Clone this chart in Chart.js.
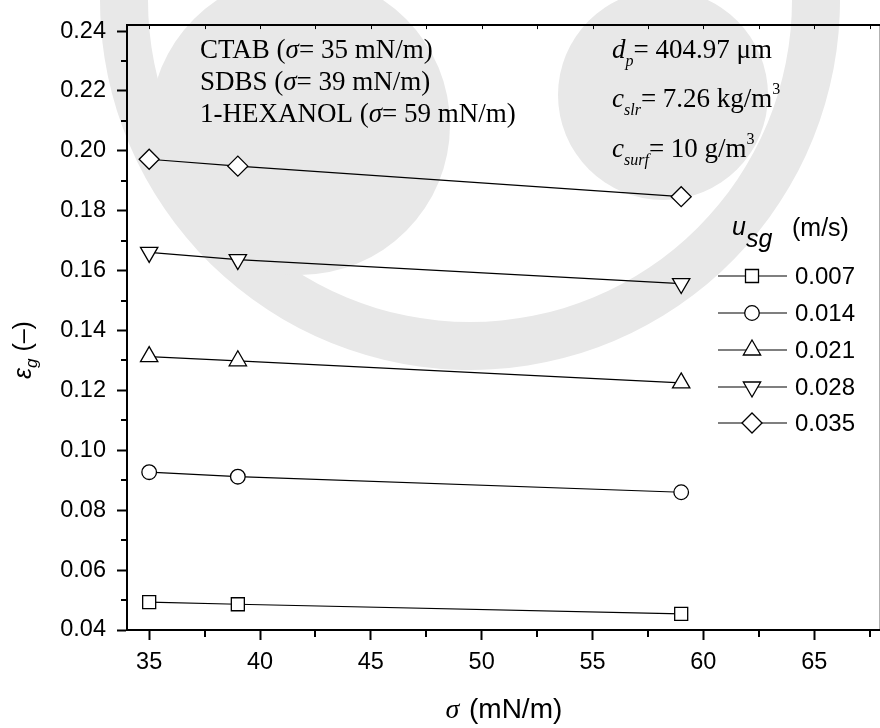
<!DOCTYPE html>
<html>
<head>
<meta charset="utf-8">
<script src="https://cdn.jsdelivr.net/npm/chart.js@4.4.1/dist/chart.umd.min.js"></script>
<style>
  html, body { margin: 0; padding: 0; background: #fff; overflow: hidden; }
  #wrap { position: relative; width: 892px; height: 728px; }
</style>
</head>
<body>
<div id="wrap"><canvas id="holdup" width="892" height="728"></canvas></div>
<script>
// surface tension of each liquid (x) and gas holdup per superficial gas velocity
const sigmaValues = [35, 39, 59];
const liquids = ['CTAB', 'SDBS', '1-HEXANOL'];
const usgLabels = ['0.007', '0.014', '0.021', '0.028', '0.035'];
const holdup007 = [0.0493, 0.0486, 0.0454];
const holdup014 = [0.0927, 0.0912, 0.0860];
const holdup021 = [0.1313, 0.1299, 0.1225];
const holdup028 = [0.1661, 0.1637, 0.1557];
const holdup035 = [0.1972, 0.1949, 0.1847];

const xMajor = [35, 40, 45, 50, 55, 60, 65];
const xMinor = [37.5, 42.5, 47.5, 52.5, 57.5, 62.5, 67.5];
const yMajor = [0.04, 0.06, 0.08, 0.10, 0.12, 0.14, 0.16, 0.18, 0.20, 0.22, 0.24];
const yMinor = [0.05, 0.07, 0.09, 0.11, 0.13, 0.15, 0.17, 0.19, 0.21, 0.23];

const particleDia = '404.97';
const slurryConc = '7.26';
const surfConc = '10';

const SANS = '"Liberation Sans", Arial, sans-serif';
const SERIF = '"Liberation Serif", "Times New Roman", serif';

const series = [holdup007, holdup014, holdup021, holdup028, holdup035];
const markers = [
    { pointStyle: 'rect', radius: 9.2, rotation: 0 },
    { pointStyle: 'circle', radius: 7.3, rotation: 0 },
    { pointStyle: 'triangle', radius: 10, rotation: 0 },
    { pointStyle: 'triangle', radius: 10, rotation: 180 },
    { pointStyle: 'rectRot', radius: 10, rotation: 0 }
];

const datasets = series.map((vals, i) => ({
    label: usgLabels[i],
    data: sigmaValues.map((x, j) => ({ x, y: vals[j] })),
    borderColor: '#000',
    borderWidth: 1.2,
    pointStyle: markers[i].pointStyle,
    pointRadius: markers[i].radius,
    pointRotation: markers[i].rotation,
    pointBackgroundColor: '#fff',
    pointBorderColor: '#000',
    pointBorderWidth: 1.3,
    tension: 0,
    clip: false
}));

// draws a row of text pieces with their own fonts / vertical shifts
function drawRuns(ctx, x, y, runs) {
    let cx = x;
    runs.forEach(r => {
        ctx.font = r.font;
        ctx.fillText(r.t, cx, y + (r.dy || 0));
        cx += ctx.measureText(r.t).width + (r.kern || 0);
    });
    return cx - x;
}
function measureRuns(ctx, runs) {
    let w = 0;
    runs.forEach(r => { ctx.font = r.font; w += ctx.measureText(r.t).width + (r.kern || 0); });
    return w;
}

// faint grey emblem printed behind the plot
const emblem = {
    id: 'emblem',
    beforeDraw(chart) {
        const ctx = chart.ctx;
        ctx.save();
        ctx.fillStyle = '#e8e8e8';
        ctx.beginPath();
        ctx.arc(470, 0, 370, -Math.PI * 0.05, Math.PI);
        ctx.arc(470, 0, 322, Math.PI, -Math.PI * 0.05, true);
        ctx.closePath();
        ctx.fill();
        ctx.beginPath();
        ctx.arc(663, 95, 105, 0, Math.PI * 2);
        ctx.fill();
        ctx.beginPath();
        ctx.arc(300, 125, 150, 0, Math.PI * 2);
        ctx.fill();
        ctx.restore();
    }
};

// top frame line plus the minor ticks
const frame = {
    id: 'frame',
    afterDraw(chart) {
        const { ctx, chartArea: a, scales: { x, y } } = chart;
        ctx.save();
        ctx.strokeStyle = '#000';
        ctx.lineWidth = 2;
        ctx.beginPath();
        ctx.moveTo(a.left - 1, a.top);
        ctx.lineTo(a.right + 2, a.top);
        ctx.moveTo(a.right, a.top);
        ctx.lineTo(a.right, a.bottom);
        xMinor.forEach(v => {
            const px = Math.round(x.getPixelForValue(v));
            ctx.moveTo(px, a.bottom);
            ctx.lineTo(px, a.bottom + 7);
        });
        yMinor.forEach(v => {
            const py = Math.round(y.getPixelForValue(v));
            ctx.moveTo(a.left, py);
            ctx.lineTo(a.left - 6, py);
        });
        ctx.stroke();
        ctx.lineWidth = 1;
        ctx.beginPath();
        xMajor.concat(xMinor).forEach(v => {
            const px = Math.round(x.getPixelForValue(v)) + 0.5;
            ctx.moveTo(px, a.top);
            ctx.lineTo(px, a.top + 4);
        });
        ctx.stroke();
        ctx.restore();
    }
};

// axis titles, the condition notes and the u_sg key
const texts = {
    id: 'texts',
    afterDraw(chart) {
        const { ctx, chartArea: a } = chart;
        ctx.save();
        ctx.fillStyle = '#000';
        ctx.textBaseline = 'alphabetic';
        ctx.textAlign = 'left';

        // x title
        const xt = [
            { t: 'σ', font: `italic 28px ${SERIF}`, kern: 2 },
            { t: ' (mN/m)', font: `28px ${SANS}` }
        ];
        const xw = measureRuns(ctx, xt);
        drawRuns(ctx, (a.left + a.right) / 2 - xw / 2, 718, xt);

        // y title, rotated
        ctx.save();
        ctx.translate(31, 379);
        ctx.rotate(-Math.PI / 2);
        drawRuns(ctx, 0, 0, [
            { t: 'ε', font: `italic 25px ${SANS}` },
            { t: 'g', font: `italic 17px ${SANS}`, dy: 6 },
            { t: ' (–)', font: `25px ${SANS}` }
        ]);
        ctx.restore();

        // liquids and their surface tension
        const base = [58, 90, 122];
        liquids.forEach((name, i) => {
            drawRuns(ctx, 200, base[i], [
                { t: name + ' (', font: `27px ${SERIF}` },
                { t: 'σ', font: `italic 27px ${SERIF}` },
                { t: '= ' + sigmaValues[i] + ' mN/m)', font: `27px ${SERIF}` }
            ]);
        });

        // operating conditions
        drawRuns(ctx, 612, 58, [
            { t: 'd', font: `italic 27px ${SERIF}` },
            { t: 'p', font: `italic 16px ${SERIF}`, dy: 8 },
            { t: '= ' + particleDia + ' μm', font: `27px ${SERIF}` }
        ]);
        drawRuns(ctx, 612, 107, [
            { t: 'c', font: `italic 27px ${SERIF}` },
            { t: 'slr', font: `italic 16px ${SERIF}`, dy: 8 },
            { t: '= ' + slurryConc + ' kg/m', font: `27px ${SERIF}` },
            { t: '3', font: `16px ${SERIF}`, dy: -13 }
        ]);
        drawRuns(ctx, 612, 157, [
            { t: 'c', font: `italic 27px ${SERIF}` },
            { t: 'surf', font: `italic 16px ${SERIF}`, dy: 8 },
            { t: '= ' + surfConc + ' g/m', font: `27px ${SERIF}` },
            { t: '3', font: `16px ${SERIF}`, dy: -13 }
        ]);

        // key header
        drawRuns(ctx, 732, 235, [
            { t: 'u', font: `italic 25px ${SANS}` },
            { t: 'sg', font: `italic 25px ${SANS}`, dy: 12 }
        ]);
        ctx.font = `25px ${SANS}`;
        ctx.fillText('(m/s)', 792, 236);

        // key rows
        const rowY = [276, 313, 350, 387, 423];
        chart.data.datasets.forEach((ds, i) => {
            const yy = rowY[i];
            ctx.strokeStyle = '#000';
            ctx.lineWidth = 1.2;
            ctx.beginPath();
            ctx.moveTo(718, yy);
            ctx.lineTo(787, yy);
            ctx.stroke();
            ctx.fillStyle = '#fff';
            ctx.lineWidth = 1.3;
            Chart.helpers.drawPoint(ctx, {
                pointStyle: ds.pointStyle,
                radius: ds.pointRadius,
                rotation: ds.pointRotation,
                borderWidth: 1.3
            }, 752, yy);
            ctx.fillStyle = '#000';
            ctx.font = `24px ${SANS}`;
            ctx.textBaseline = 'middle';
            ctx.fillText(ds.label, 795, yy + 1);
            ctx.textBaseline = 'alphabetic';
        });
        ctx.restore();
    }
};

const tickFont = { family: SANS, size: 23.5 };

new Chart(document.getElementById('holdup'), {
    type: 'line',
    data: { datasets },
    options: {
        responsive: false,
        animation: false,
        layout: { padding: { top: 14, right: 6, left: 0, bottom: 0 } },
        plugins: { legend: { display: false }, tooltip: { enabled: false } },
        scales: {
            x: {
                type: 'linear',
                min: 34,
                max: 68,
                afterBuildTicks: s => { s.ticks = xMajor.map(v => ({ value: v })); },
                afterFit: s => { s.height = 98; },
                border: { color: '#000', width: 2 },
                grid: { drawOnChartArea: false, tickLength: 10, tickWidth: 2, tickColor: '#000' },
                ticks: { color: '#000', font: tickFont, padding: 8, maxRotation: 0, autoSkip: false }
            },
            y: {
                min: 0.04,
                max: 0.242,
                afterBuildTicks: s => { s.ticks = yMajor.map(v => ({ value: v })); },
                afterFit: s => { s.width = 127; },
                border: { color: '#000', width: 2 },
                grid: { drawOnChartArea: false, tickLength: 10, tickWidth: 2, tickColor: '#000' },
                ticks: { color: '#000', font: tickFont, padding: 11, autoSkip: false, callback: v => v.toFixed(2) }
            }
        }
    },
    plugins: [emblem, frame, texts]
});
</script>
</body>
</html>
